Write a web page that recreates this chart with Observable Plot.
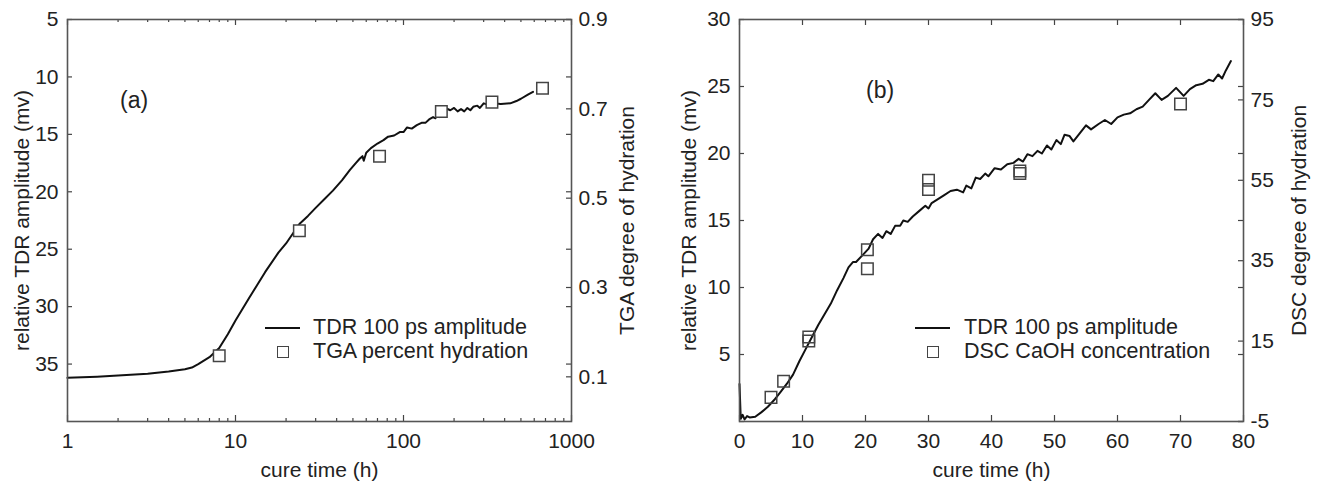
<!DOCTYPE html>
<html><head><meta charset="utf-8">
<script src="https://cdn.jsdelivr.net/npm/d3@7"></script>
<script src="https://cdn.jsdelivr.net/npm/@observablehq/plot@0.6"></script>
<style>
body{margin:0;background:#fff;}
#wrap{position:relative;width:1317px;height:481px;font-family:"Liberation Sans",Arial,sans-serif;color:#222;overflow:hidden;}
.panel{position:absolute;top:0;}
.txt{position:absolute;font-size:21.5px;white-space:nowrap;line-height:1;transform:translateY(-50%);}
.ln{position:absolute;height:0;border-top:2px solid #111;transform:translateY(-1px);}
.sq{position:absolute;width:10px;height:10px;border:1.5px solid #444;background:#fff;transform:translate(-50%,-50%);}
</style></head><body><div id="wrap"></div>
<script>
// ---------- panel (a) data ----------
const tdrTimeA = [1,1.5,2,3,4,5,5.5,6,7,8,9,10,12,15,18,20,24,27,30,34,38,43,48,52,55,57,58,60,64,70,76,81,88,95,100,105,112,120,128,135,142,150,155,160,163,170,180,190,200,210,220,230,240,250,260,275,285,300,316,340,380,432,470,500,550,590];
const tdrAmpA  = [36.2,36.1,36.0,35.85,35.65,35.45,35.3,35.0,34.4,33.6,32.4,31.2,29.3,27.0,25.3,24.5,22.8,22.1,21.4,20.6,19.9,19.0,18.1,17.5,17.1,16.9,17.3,16.6,16.2,15.8,15.5,15.2,15.1,14.8,14.8,14.4,14.5,14.2,14.0,14.0,13.7,13.5,13.6,13.0,13.5,12.9,12.75,12.9,12.7,13.0,12.8,13.0,12.7,12.9,12.6,12.5,12.7,12.3,12.4,12.3,12.35,12.3,12.1,11.9,11.55,11.3];
const tgaTime = [8,24,72,168,336,672];
const tgaHydration = [0.147,0.427,0.594,0.694,0.715,0.746];
const xTicksA = [1,10,100,1000];
const yTicksA = [5,10,15,20,25,30,35];
const tgaTicks = [0.1,0.3,0.5,0.7,0.9];

// ---------- panel (b) data ----------
const tdrTimeB = [0,0.2,0.5,0.8,1.2,1.6,2.5,3.5,4.5,5.5,6.5,7.5,8.5,9.5,10.5,11.5,12.5,13.5,14.5,15.5,16.5,17.3,18,18.5,19.5,20.5,21.2,22,22.7,23.3,24,24.7,25.5,26,26.7,27.5,28.5,29.5,30,30.5,31.5,32.5,33.5,34.5,35.5,36,36.8,37.5,38.2,39,39.5,40.5,41.5,42.5,43.5,44.3,45,45.7,46.5,47.3,48,48.8,49.5,50.3,51,51.6,52.4,53,54,55,55.8,57,58,59,60,61,62,63,64,65,66,67,68,69.3,70.5,71.5,72.5,73.5,74.5,75.2,76,76.6,77.2,78];
const tdrAmpB  = [2.8,0.2,0.5,0.15,0.4,0.3,0.35,0.7,1.1,1.6,2.2,2.8,3.5,4.5,5.4,6.3,7.2,8.0,8.8,9.8,10.7,11.5,11.9,11.9,12.4,12.9,13.6,14.0,13.7,14.2,14.0,14.6,14.6,15.0,14.9,15.3,15.7,16.1,15.9,16.3,16.6,16.9,17.2,17.3,17.1,17.6,17.4,18.2,18.1,18.5,18.3,18.9,18.8,19.2,19.3,19.6,19.4,19.95,19.8,20.2,20.0,20.6,20.3,21.0,20.7,21.4,21.3,20.9,21.5,22.1,21.8,22.2,22.5,22.2,22.7,22.9,23.0,23.3,23.5,24.0,24.5,24.0,24.3,24.9,24.3,24.8,25.1,25.2,25.5,25.4,25.9,25.6,26.2,26.9];
const dscTime = [5,7,11,11,20.3,20.3,30,30,44.5,44.5,70];
const dscHydration = [1,5,16,15,37.7,33,55,52.7,57.3,56.7,74];
const xTicksB = [0,10,20,30,40,50,60,70,80];
const yTicksB = [0,5,10,15,20,25,30];
const dscTicks = [-5,15,35,55,75,95];

// secondary-axis mappings (from the figure's paired axes)
const tgaToAmp = h => 40 - h * 35 / 0.9;
const ampToTga = v => (40 - v) * 0.9 / 35;
const dscToAmp = d => (d + 5) * 0.3;
const ampToDsc = v => v / 0.3 - 5;

const H = 481, MT = 19, MB = 60, PH = H - MT - MB;
const FRAME = "#555", TICK = "#444";
const font = "\"Liberation Sans\", Arial, sans-serif";
const FS = 21;

function ticksX(vals, len) {
  return [
    Plot.tickX(vals, {x: d => d, stroke: TICK, strokeWidth: 1.2, insetTop: PH - len}),
    Plot.tickX(vals, {x: d => d, stroke: TICK, strokeWidth: 1.2, insetBottom: PH - len})
  ];
}
function ticksY(vals, len, pw, side) {
  const o = {y: d => d, stroke: TICK, strokeWidth: 1.2};
  if (side === "left") o.insetRight = pw - len; else o.insetLeft = pw - len;
  return Plot.tickY(vals, o);
}

// ---------- panel (a) ----------
const WA = 658, MLA = 67, MRA = 87, PWA = WA - MLA - MRA;
const minorA = [];
for (const dec of [1,10,100]) for (let k = 2; k <= 9; k++) minorA.push(k * dec);
const seriesA = tdrTimeA.map((t, i) => ({t, v: tdrAmpA[i]}));
const pointsA = tgaTime.map((t, i) => ({t, h: tgaHydration[i]}));

const plotA = Plot.plot({
  width: WA, height: H, marginLeft: MLA, marginRight: MRA, marginTop: MT, marginBottom: MB,
  style: {fontSize: "21px", fontFamily: font, color: "#222", background: "transparent"},
  x: {type: "log", domain: [1, 1000], axis: null},
  y: {domain: [40, 5], axis: null},
  marks: [
    ...ticksX(minorA, 3),
    ...ticksX(xTicksA, 6),
    ticksY(yTicksA, 5, PWA, "left"),
    ticksY(yTicksA, 5, PWA, "right"),
    ticksY(tgaTicks.map(tgaToAmp), 5, PWA, "right"),
    Plot.axisX({ticks: xTicksA, tickSize: 0, tickPadding: 12, tickFormat: d3.format("d"), fontSize: FS,
      label: "cure time (h)", labelAnchor: "center", labelArrow: "none", labelOffset: 55}),
    Plot.axisY({ticks: yTicksA, tickSize: 0, tickPadding: 9, anchor: "left", fontSize: FS,
      label: "relative TDR amplitude (mv)", labelAnchor: "center", labelArrow: "none", labelOffset: 53}),
    Plot.axisY({ticks: tgaTicks.map(tgaToAmp), tickSize: 0, tickPadding: 7, anchor: "right", fontSize: FS,
      tickFormat: v => d3.format(".1f")(ampToTga(v)),
      label: "TGA degree of hydration", labelAnchor: "center", labelArrow: "none", labelOffset: 62}),
    Plot.line(seriesA, {x: "t", y: "v", stroke: "#111", strokeWidth: 2}),
    Plot.dot(pointsA, {x: "t", y: d => tgaToAmp(d.h), symbol: "square", r: 6.5, fill: "white", stroke: "#444", strokeWidth: 1.5}),
    Plot.frame({stroke: FRAME, strokeWidth: 1.6})
  ]
});

// ---------- panel (b) ----------
const WB = 659, MLB = 81, MRB = 74, PWB = WB - MLB - MRB;
const seriesB = tdrTimeB.map((t, i) => ({t, v: tdrAmpB[i]}));
const pointsB = dscTime.map((t, i) => ({t, d: dscHydration[i]}));

const plotB = Plot.plot({
  width: WB, height: H, marginLeft: MLB, marginRight: MRB, marginTop: MT, marginBottom: MB,
  style: {fontSize: "21px", fontFamily: font, color: "#222", background: "transparent"},
  x: {domain: [0, 80], axis: null},
  y: {domain: [0, 30], axis: null},
  marks: [
    ...ticksX(xTicksB, 6),
    ticksY(yTicksB, 5, PWB, "left"),
    ticksY(yTicksB, 5, PWB, "right"),
    ticksY(dscTicks.map(dscToAmp), 5, PWB, "right"),
    Plot.axisX({ticks: xTicksB, tickSize: 0, tickPadding: 12, tickFormat: d3.format("d"), fontSize: FS,
      label: "cure time (h)", labelAnchor: "center", labelArrow: "none", labelOffset: 55}),
    Plot.axisY({ticks: yTicksB.filter(d => d > 0), tickSize: 0, tickPadding: 9, anchor: "left", fontSize: FS,
      label: "relative TDR amplitude (mv)", labelAnchor: "center", labelArrow: "none", labelOffset: 58}),
    Plot.axisY({ticks: dscTicks.map(dscToAmp), tickSize: 0, tickPadding: 7, anchor: "right", fontSize: FS,
      tickFormat: v => String(Math.round(ampToDsc(v))),
      label: "DSC degree of hydration", labelAnchor: "center", labelArrow: "none", labelOffset: 62}),
    Plot.line(seriesB, {x: "t", y: "v", stroke: "#111", strokeWidth: 2}),
    Plot.dot(pointsB, {x: "t", y: d => dscToAmp(d.d), symbol: "square", r: 6.5, fill: "white", fillOpacity: 0, stroke: "#444", strokeWidth: 1.5}),
    Plot.frame({stroke: FRAME, strokeWidth: 1.6})
  ]
});

const wrap = document.getElementById("wrap");
plotA.classList.add("panel"); plotA.style.left = "0px";
plotB.classList.add("panel"); plotB.style.left = WA + "px";
wrap.appendChild(plotA); wrap.appendChild(plotB);

function add(html) { wrap.insertAdjacentHTML("beforeend", html); }
// panel tags
add(`<div class="txt" style="left:120px;top:100px;font-size:23px">(a)</div>`);
add(`<div class="txt" style="left:866px;top:90px;font-size:23px">(b)</div>`);
// legends
add(`<div class="ln" style="left:265px;top:328px;width:35px"></div>`);
add(`<div class="txt" style="left:313px;top:328px">TDR 100 ps amplitude</div>`);
add(`<div class="sq" style="left:283px;top:352px"></div>`);
add(`<div class="txt" style="left:313px;top:352px">TGA percent hydration</div>`);
add(`<div class="ln" style="left:915px;top:328px;width:35px"></div>`);
add(`<div class="txt" style="left:964px;top:328px">TDR 100 ps amplitude</div>`);
add(`<div class="sq" style="left:933px;top:352px"></div>`);
add(`<div class="txt" style="left:964px;top:352px">DSC CaOH concentration</div>`);
</script></body></html>
